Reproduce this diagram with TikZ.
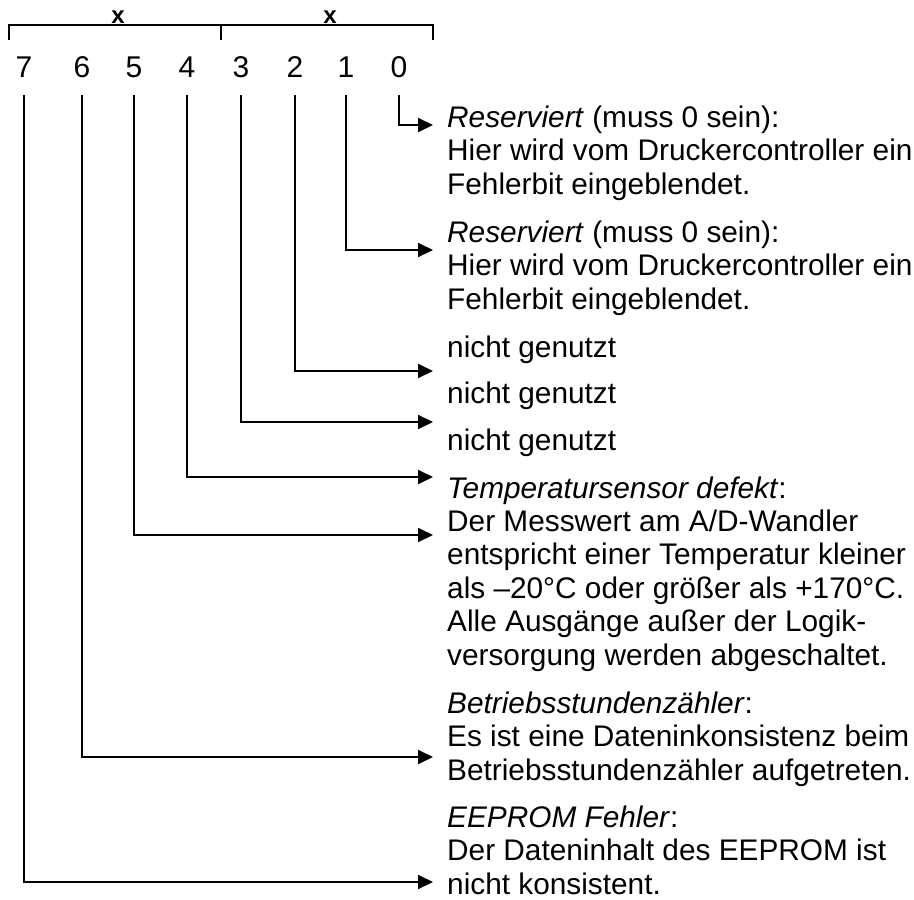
\documentclass[tikz,border=0pt]{standalone}
\usepackage{fontspec}
\setmainfont{Liberation Sans}
\usetikzlibrary{arrows.meta}
\begin{document}
\begin{tikzpicture}[x=1pt,y=-1pt,
  ln/.style={line width=2pt},
  arr/.style={ln,-{Triangle[length=15pt,width=14pt]}},
  bitnum/.style={font=\fontsize{30}{34}\selectfont, anchor=base, inner xsep=0pt, inner ysep=18pt},
  desc/.style={font=\fontsize{29.8}{33.4}\selectfont, anchor=base west, align=left, inner sep=0pt},
  byte/.style={font=\fontsize{24}{26}\selectfont\bfseries, anchor=base, inner sep=0pt}]
\useasboundingbox (0,0) rectangle (914,900);

% byte brackets
\draw[ln] (9,40) -- (9,25) -- (433,25) -- (433,40);
\draw[ln] (221,25) -- (221,40);
\node[byte] (xh) at (118,23) {x};
\node[byte] (xl) at (330,23) {x};

% bit numbers
\node[bitnum] (b7) at (24,77) {7};
\node[bitnum] (b6) at (82,77) {6};
\node[bitnum] (b5) at (134,77) {5};
\node[bitnum] (b4) at (187,77) {4};
\node[bitnum] (b3) at (241,77) {3};
\node[bitnum] (b2) at (295,77) {2};
\node[bitnum] (b1) at (346,77) {1};
\node[bitnum] (b0) at (399,77) {0};

% arrow ends
\coordinate (e0) at (433,125);
\coordinate (e1) at (433,250);
\coordinate (e2) at (433,371);
\coordinate (e3) at (433,422);
\coordinate (e4) at (433,477);
\coordinate (e5) at (433,535);
\coordinate (e6) at (433,757);
\coordinate (e7) at (433,882);

\draw[arr] (b0.south) |- (e0);
\draw[arr] (b1.south) |- (e1);
\draw[arr] (b2.south) |- (e2);
\draw[arr] (b3.south) |- (e3);
\draw[arr] (b4.south) |- (e4);
\draw[arr] (b5.south) |- (e5);
\draw[arr] (b6.south) |- (e6);
\draw[arr] (b7.south) |- (e7);

% descriptions (anchored at the baseline of the last line)
\node[desc] (t0) at (447,194) {\textit{Reserviert} (muss 0 sein):\\Hier wird vom Druckercontroller ein\\Fehlerbit eingeblendet.};
\node[desc] (t1) at (447,309) {\textit{Reserviert} (muss 0 sein):\\Hier wird vom Druckercontroller ein\\Fehlerbit eingeblendet.};
\node[desc] (t2) at (447,357) {nicht genutzt};
\node[desc] (t3) at (447,403) {nicht genutzt};
\node[desc] (t4) at (447,450) {nicht genutzt};
\node[desc] (t5) at (447,665) {\textit{Temperatursensor defekt}:\\Der Messwert am A/D-Wandler\\entspricht einer Temperatur kleiner\\als –20°C oder größer als +170°C.\\Alle Ausgänge außer der Logik-\\versorgung werden abgeschaltet.};
\node[desc] (t6) at (447,780) {\textit{Betriebsstundenzähler}:\\Es ist eine Dateninkonsistenz beim\\Betriebsstundenzähler aufgetreten.};
\node[desc] (t7) at (447,894) {\textit{EEPROM Fehler}:\\Der Dateninhalt des EEPROM ist\\nicht konsistent.};
\end{tikzpicture}
\end{document}
